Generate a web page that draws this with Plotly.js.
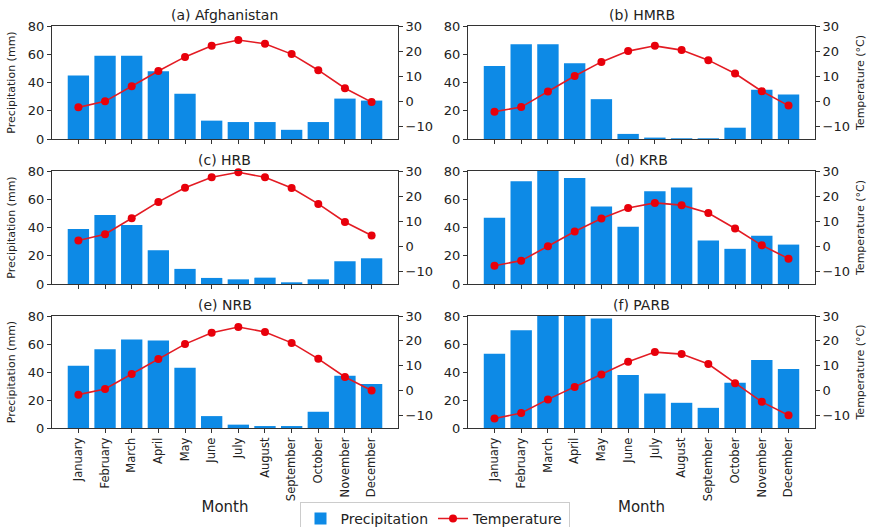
<!DOCTYPE html>
<html>
<head>
<meta charset="utf-8">
<script src="https://cdn.plot.ly/plotly-3.0.1.min.js"></script>
<style>html,body{margin:0;padding:0;background:#fff;}#chart{width:869px;height:527px;}</style>
</head>
<body>
<div id="chart"></div>
<script>
const months = ["January","February","March","April","May","June","July","August","September","October","November","December"];
const panelTitles = ["(a) Afghanistan","(b) HMRB","(c) HRB","(d) KRB","(e) NRB","(f) PARB"];

const precipAfghanistan = [45, 59, 59, 48, 32, 13, 12, 12, 6.5, 12, 28.6, 27.2];
const tempAfghanistan   = [-2.4, 0, 6, 12.1, 17.7, 22.1, 24.4, 22.9, 18.8, 12.4, 5.2, -0.3];

const precipHMRB = [51.6, 67, 67, 53.7, 28.2, 3.6, 1, 0.5, 0.5, 8, 34.8, 31.5];
const tempHMRB   = [-4.1, -2.3, 3.9, 10.1, 15.7, 20, 22.1, 20.4, 16.4, 11.1, 4, -1.7];

const precipHRB = [39, 48.8, 41.7, 23.9, 10.7, 4.3, 3.3, 4.5, 1.2, 3.3, 16.1, 18.2];
const tempHRB   = [2.3, 4.8, 11.2, 17.7, 23.3, 27.5, 29.5, 27.5, 23.2, 16.9, 9.7, 4.3];

const precipKRB = [46.9, 72.7, 80.5, 75, 54.9, 40.5, 65.6, 68.4, 30.8, 24.9, 34.1, 27.9];
const tempKRB   = [-7.7, -5.7, 0, 5.9, 11.1, 15.3, 17.3, 16.4, 13.3, 7.1, 0.4, -4.9];

const precipNRB = [44.5, 56.3, 63.2, 62.5, 43, 8.5, 2.4, 1.4, 1.4, 11.6, 37.4, 31.5];
const tempNRB   = [-1.6, 0.7, 6.7, 12.7, 18.7, 23.3, 25.6, 23.6, 19.2, 12.8, 5.5, 0.1];

const precipPARB = [53, 69.8, 84, 83, 78.3, 37.9, 24.6, 18, 14.4, 32.4, 48.5, 42.1];
const tempPARB   = [-11.2, -9, -3.5, 1.5, 6.5, 11.6, 15.5, 14.7, 10.7, 3, -4.5, -9.9];

const precipAll = [precipAfghanistan, precipHMRB, precipHRB, precipKRB, precipNRB, precipPARB];
const tempAll = [tempAfghanistan, tempHMRB, tempHRB, tempKRB, tempNRB, tempPARB];

const W = 869, H = 527;
const colX = [[52, 398], [468, 815]];
const rowY = [[26, 139], [171, 284], [316, 428]];

const barColor = "#0d8ae6";
const lineColor = "#e31b23";
const axisColor = "#333333";
const fontFam = "DejaVu Sans, sans-serif";

const traces = [];
const layout = {
  width: W, height: H,
  margin: {l: 0, r: 0, t: 0, b: 0, autoexpand: false},
  paper_bgcolor: "#ffffff",
  plot_bgcolor: "#ffffff",
  bargap: 0.2,
  showlegend: true,
  legend: {
    orientation: "h", x: 0.5, xanchor: "center", y: -0.017, yanchor: "bottom",
    bordercolor: "#cccccc", borderwidth: 1, font: {family: fontFam, size: 14, color: "#222"},
    bgcolor: "#ffffff", traceorder: "normal"
  },
  annotations: [],
  font: {family: fontFam, color: "#222"}
};

for (let i = 0; i < 6; i++) {
  const col = i % 2, row = Math.floor(i / 2);
  const n = i + 1;
  const xa = "x" + n, ya = "y" + n, ya2 = "y" + (n + 6);
  const xk = "xaxis" + n, yk = "yaxis" + n, y2k = "yaxis" + (n + 6);
  const xd = [colX[col][0] / W, colX[col][1] / W];
  const yd = [1 - rowY[row][1] / H, 1 - rowY[row][0] / H];

  traces.push({
    type: "bar", x: months, y: precipAll[i], xaxis: xa, yaxis: ya,
    marker: {color: barColor}, name: "Precipitation", legendgroup: "p",
    showlegend: i === 0
  });
  traces.push({
    type: "scatter", mode: "lines+markers", x: months, y: tempAll[i], xaxis: xa, yaxis: ya2,
    line: {color: lineColor, width: 1.6}, marker: {color: "#e8000b", size: 8},
    name: "Temperature", legendgroup: "t", showlegend: i === 0, cliponaxis: false
  });

  layout[xk] = {
    domain: xd, anchor: ya, type: "category", range: [-0.99, 11.99],
    showline: true, mirror: true, linecolor: axisColor, linewidth: 1,
    ticks: "outside", ticklen: 4, tickcolor: axisColor,
    showticklabels: row === 2, tickangle: -90,
    tickfont: {family: fontFam, size: 11.5, color: "#222"},
    showgrid: false, zeroline: false, automargin: false
  };
  if (row === 2) {
    layout[xk].title = {text: "Month", font: {family: fontFam, size: 15, color: "#222"}, standoff: 1};
  }
  layout[yk] = {
    domain: yd, anchor: xa, range: [0, 80], tickvals: [0, 20, 40, 60, 80],
    showline: true, linecolor: axisColor, linewidth: 1,
    ticks: "outside", ticklen: 4, tickcolor: axisColor,
    tickfont: {family: fontFam, size: 13, color: "#222"},
    showgrid: false, zeroline: false, automargin: false
  };
  if (col === 0) {
    layout[yk].title = {text: "Precipitation (mm)", font: {family: fontFam, size: 11, color: "#222"}, standoff: 10};
  }
  layout[y2k] = {
    overlaying: ya, anchor: xa, side: "right", range: [-15, 30], tickvals: [-10, 0, 10, 20, 30],
    showline: true, linecolor: axisColor, linewidth: 1,
    ticks: "outside", ticklen: 4, tickcolor: axisColor,
    tickfont: {family: fontFam, size: 13, color: "#222"},
    showgrid: false, zeroline: false, automargin: false
  };
  if (col === 1) {
    layout[y2k].title = {text: "Temperature (°C)", font: {family: fontFam, size: 11, color: "#222"}, standoff: 7};
  }
  layout.annotations.push({
    text: panelTitles[i], xref: "paper", yref: "paper",
    x: (xd[0] + xd[1]) / 2, y: yd[1], xanchor: "center", yanchor: "bottom", yshift: 1,
    showarrow: false, font: {family: fontFam, size: 14, color: "#222"}
  });
}

Plotly.newPlot("chart", traces, layout, {displayModeBar: false, staticPlot: true});
</script>
</body>
</html>
